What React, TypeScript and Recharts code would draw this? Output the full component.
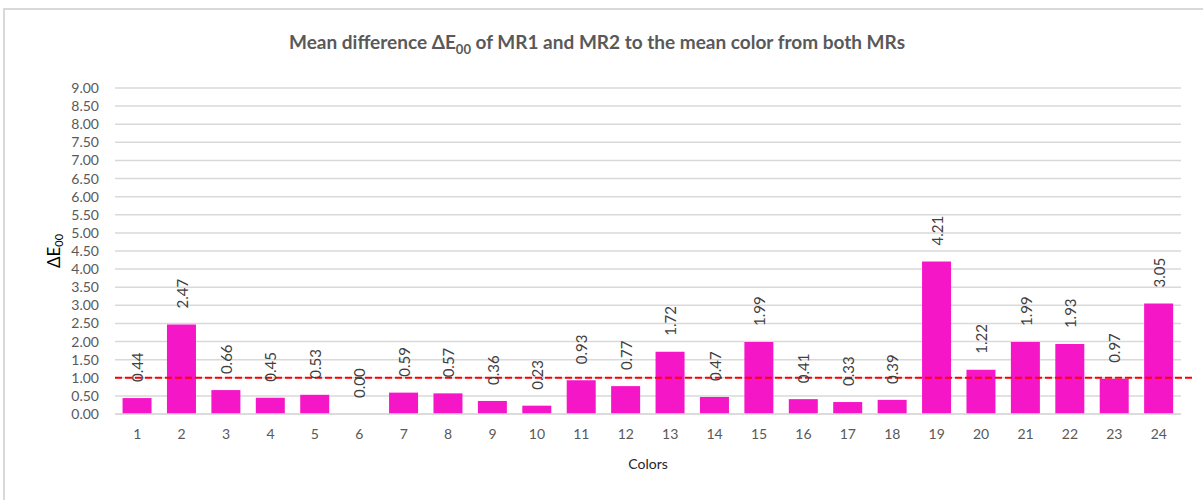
import { ComposedChart, Bar, Line, XAxis, YAxis, CartesianGrid, ReferenceLine, LabelList } from 'recharts';

const COLORS_IDS = ['1', '2', '3', '4', '5', '6', '7', '8', '9', '10', '11', '12', '13', '14', '15', '16', '17', '18', '19', '20', '21', '22', '23', '24'];
const DELTA_E = [0.44, 2.47, 0.66, 0.45, 0.53, 0.0, 0.59, 0.57, 0.36, 0.23, 0.93, 0.77, 1.72, 0.47, 1.99, 0.41, 0.33, 0.39, 4.21, 1.22, 1.99, 1.93, 0.97, 3.05];
const Y_TICKS = [0, 0.5, 1, 1.5, 2, 2.5, 3, 3.5, 4, 4.5, 5, 5.5, 6, 6.5, 7, 7.5, 8, 8.5, 9];
const THRESHOLD = 1;

const FONT = 'Lato, "Open Sans", sans-serif';
const BAR_COLOR = '#F516C8';
const GRID = '#d9d9d9';
const TICK_COLOR = '#595959';

const data = COLORS_IDS.map((name, i) => ({ name, value: DELTA_E[i] }));

// rotated value label, starting a bit above the bar top
function ValueLabel(props: any) {
  const { x, y, value } = props;
  const ty = y - 16;
  return (
    <text
      x={x}
      y={ty}
      transform={`rotate(-90, ${x}, ${ty})`}
      textAnchor="start"
      dominantBaseline="central"
      fontSize={15}
      fontFamily={FONT}
      fill="#404040"
    >
      {Number(value).toFixed(2)}
    </text>
  );
}

function YLabel() {
  const cx = 53;
  const cy = 251;
  return (
    <text
      x={cx}
      y={cy}
      transform={`rotate(-90, ${cx}, ${cy})`}
      textAnchor="middle"
      dominantBaseline="central"
      fontSize={17}
      fontFamily={FONT}
      fill="#000"
    >
      ΔE
      <tspan fontSize={11} dy={5}>00</tspan>
    </text>
  );
}

function XLabel(props: any) {
  const vb = props.viewBox || {};
  const cx = vb.x + vb.width / 2;
  return (
    <text x={cx} y={463} textAnchor="middle" dominantBaseline="central" fontSize={14} fontFamily={FONT} fill="#262626">
      Colors
    </text>
  );
}

export default function App() {
  return (
    <div style={{ position: 'absolute', left: 0, top: 0, width: 1203, height: 500, overflow: 'hidden', background: '#fff' }}>
      <div
        style={{
          position: 'absolute',
          left: 3,
          top: 8,
          width: 1300,
          height: 600,
          border: `2px solid ${GRID}`,
        }}
      />
      <div
        style={{
          position: 'absolute',
          left: 0,
          top: 30,
          width: 1194,
          textAlign: 'center',
          fontFamily: FONT,
          fontWeight: 'bold',
          fontSize: 19,
          color: TICK_COLOR,
          whiteSpace: 'nowrap',
        }}
      >
        Mean difference ΔE<sub style={{ fontSize: 13 }}>00</sub> of MR1 and MR2 to the mean color from both MRs
      </div>
      <div style={{ position: 'absolute', left: 0, top: 0 }}>
        <ComposedChart
          width={1203}
          height={500}
          data={data}
          margin={{ top: 88, right: 22, bottom: 56, left: 0 }}
          barCategoryGap="17%"
        >
          <CartesianGrid vertical={false} stroke={GRID} strokeWidth={1.5} />
          <XAxis
            dataKey="name"
            height={30}
            tickLine={false}
            axisLine={{ stroke: GRID, strokeWidth: 1.5 }}
            tickMargin={9}
            tick={{ fontSize: 14, fill: TICK_COLOR, fontFamily: FONT }}
            label={<XLabel />}
          />
          <YAxis
            width={115}
            domain={[0, 9]}
            ticks={Y_TICKS}
            interval={0}
            tickFormatter={(v: number) => v.toFixed(2)}
            axisLine={false}
            tickLine={false}
            tickMargin={10}
            tick={{ fontSize: 14, fill: TICK_COLOR, fontFamily: FONT }}
            label={<YLabel />}
          />
          <Bar dataKey="value" fill={BAR_COLOR} isAnimationActive={false} />
          <Line
            dataKey="value"
            stroke="none"
            dot={false}
            activeDot={false}
            legendType="none"
            isAnimationActive={false}
          >
            <LabelList dataKey="value" content={<ValueLabel />} />
          </Line>
          <ReferenceLine
            y={THRESHOLD}
            stroke="#FF0000"
            strokeWidth={2}
            strokeDasharray="7 3"
            shape={(p: any) => (
              <line x1={p.x1} y1={p.y1} x2={p.x2 + 11} y2={p.y2} stroke="#FF0000" strokeWidth={2} strokeDasharray="7 3" />
            )}
          />
        </ComposedChart>
      </div>
    </div>
  );
}
